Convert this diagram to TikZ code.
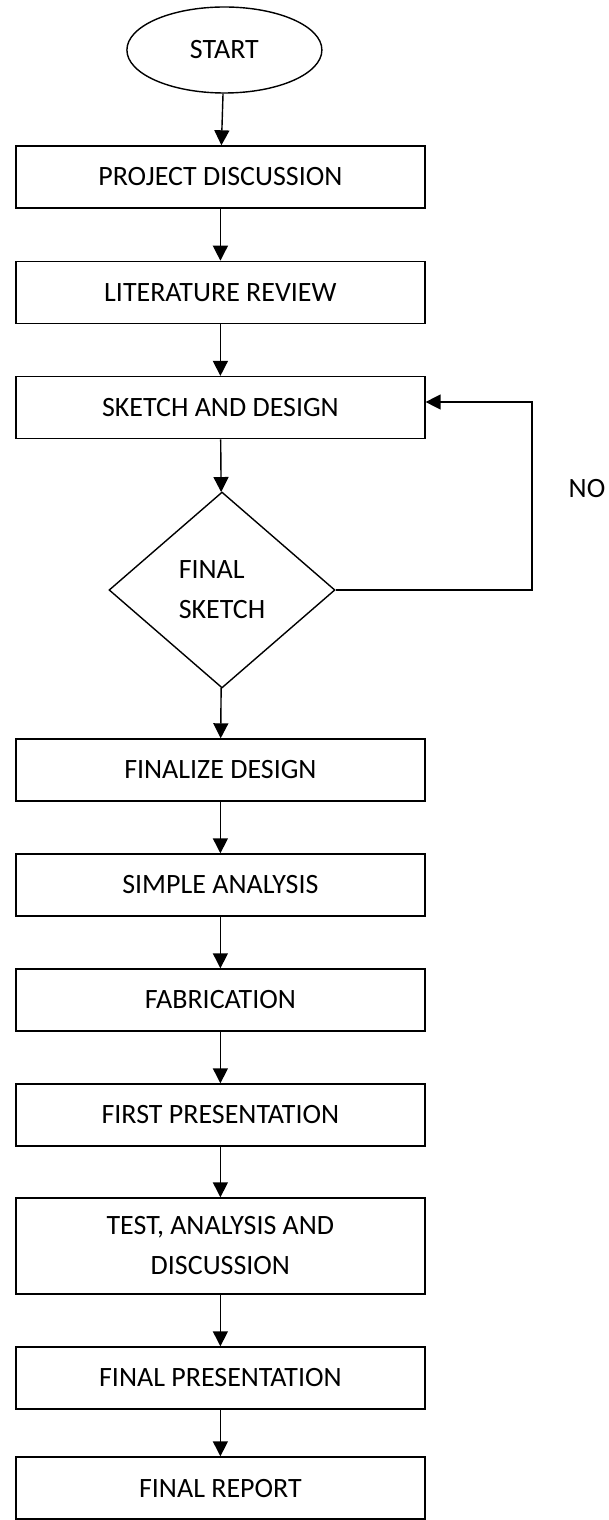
\documentclass[tikz,border=0pt]{standalone}
\usepackage{fontspec}
\setmainfont{Carlito}
\usetikzlibrary{shapes.geometric, arrows.meta}

\begin{document}
\begin{tikzpicture}[>={Triangle[length=0.375cm, width=0.375cm]}, line width=1pt,
        every node/.style={font=\fontsize{19.9}{28.45}\selectfont},
        stepbox/.style={draw, rectangle, minimum width=10.225cm, minimum height=1.55cm, inner sep=0pt, align=center}]
        \useasboundingbox (0,0) rectangle (15.2,-38);

        \node[draw, ellipse, minimum width=4.875cm, minimum height=2.15cm] (start) at (5.61,-1.25) {START};
        \node[stepbox] (project_discussion) at (5.51,-4.425)  {PROJECT DISCUSSION};
        \node[stepbox] (literature_review)  at (5.51,-7.31)   {LITERATURE REVIEW};
        \node[stepbox] (sketch_design)      at (5.51,-10.19)  {SKETCH AND DESIGN};
        \node[draw, diamond, minimum width=5.65cm, minimum height=4.9cm, inner sep=0pt, align=left]
                       (final_sketch)       at (5.55,-14.75)  {FINAL\\SKETCH};
        \node[stepbox] (finalize_design)    at (5.51,-19.25)  {FINALIZE DESIGN};
        \node[stepbox] (simple_analysis)    at (5.51,-22.125) {SIMPLE ANALYSIS};
        \node[stepbox] (fabrication)        at (5.51,-25)     {FABRICATION};
        \node[stepbox] (first_presentation) at (5.51,-27.875) {FIRST PRESENTATION};
        \node[stepbox, minimum height=2.4cm] (test_analysis) at (5.51,-31.15) {TEST, ANALYSIS AND\\DISCUSSION};
        \node[stepbox] (final_presentation) at (5.51,-34.45)  {FINAL PRESENTATION};
        \node[stepbox] (final_report)       at (5.51,-37.2)   {FINAL REPORT};

        \coordinate (loop_corner) at (13.3,-14.75);
        \node[anchor=west, inner sep=0pt] (no_label) at (14.2,-12.22) {NO};

        \path[->] (start)              edge (project_discussion)
                  (project_discussion) edge (literature_review)
                  (literature_review)  edge (sketch_design)
                  (sketch_design)      edge (final_sketch)
                  (final_sketch)       edge (finalize_design)
                  (finalize_design)    edge (simple_analysis)
                  (simple_analysis)    edge (fabrication)
                  (fabrication)        edge (first_presentation)
                  (first_presentation) edge (test_analysis)
                  (test_analysis)      edge (final_presentation)
                  (final_presentation) edge (final_report);

        % loop back when the sketch is not final
        \draw[->] (final_sketch.east) -- (loop_corner) |- ([yshift=0.14cm]sketch_design.east);
    \end{tikzpicture}
\end{document}
